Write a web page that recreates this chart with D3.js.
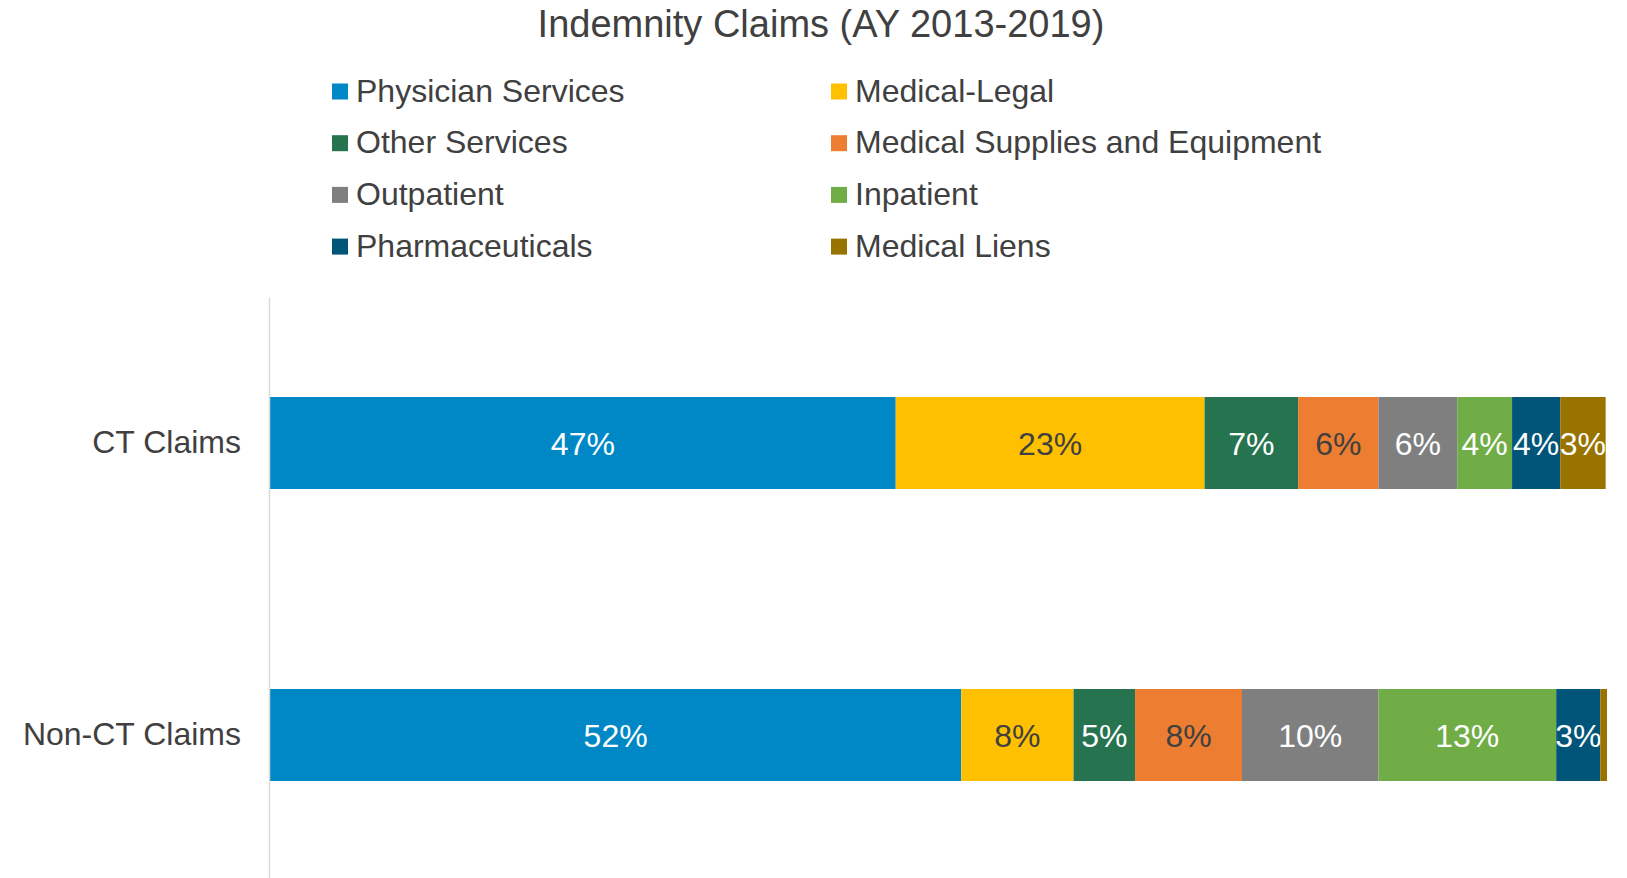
<!DOCTYPE html>
<html lang="en">
<head>
    <meta charset="UTF-8">
    <title>Indemnity Claims (AY 2013-2019)</title>
    <script src="https://d3js.org/d3.v7.min.js"></script>
    <style>
        body { margin: 0; background: #fff; }
        text { font-family: "Liberation Sans", Arial, sans-serif; }
    </style>
</head>
<body>
    <svg width="1627" height="878"></svg>
    <script>
        // data (shares in %)
        const categories = ['CT Claims', 'Non-CT Claims'];
        const seriesNames = ['Physician Services', 'Medical-Legal', 'Other Services',
            'Medical Supplies and Equipment', 'Outpatient', 'Inpatient',
            'Pharmaceuticals', 'Medical Liens'];
        const ctValues = [46.8, 23.1, 7.0, 6.0, 5.9, 4.1, 3.6, 3.4];
        const nonCtValues = [51.7, 8.4, 4.6, 8.0, 10.2, 13.3, 3.3, 0.5];

        const colors = ['#0088c6', '#ffc000', '#267350', '#ed7d31',
            '#7f7f7f', '#70ad47', '#005578', '#997300'];
        const labelColors = ['#fff', '#404040', '#fff', '#404040',
            '#fff', '#fff', '#fff', '#fff'];

        const svg = d3.select('svg');

        // build rows for the stack
        const rows = categories.map((c, i) => {
            const vals = i === 0 ? ctValues : nonCtValues;
            const r = { category: c };
            seriesNames.forEach((s, j) => r[s] = vals[j]);
            return r;
        });
        const stacked = d3.stack().keys(seriesNames)(rows);

        const x = d3.scaleLinear().domain([0, 100]).range([270, 1607]);
        const y = d3.scaleBand().domain(categories)
            .range([297, 881])
            .paddingInner(0.685)
            .paddingOuter(0.3425);

        // title
        svg.append('text')
            .attr('x', 821).attr('y', 37)
            .attr('text-anchor', 'middle')
            .style('font-size', '38px')
            .attr('fill', '#404040')
            .text('Indemnity Claims (AY 2013-2019)');

        // legend, two columns
        const legend = svg.append('g');
        seriesNames.forEach((s, i) => {
            const col = i % 2, row = Math.floor(i / 2);
            const g = legend.append('g')
                .attr('transform', `translate(${col === 0 ? 332 : 831}, ${91.5 + row * 51.7})`);
            g.append('rect')
                .attr('x', 0).attr('y', -8)
                .attr('width', 16).attr('height', 16)
                .attr('fill', colors[i]);
            g.append('text')
                .attr('x', 24).attr('y', 10)
                .style('font-size', '32px')
                .attr('fill', '#404040')
                .text(s);
        });

        // bars
        const layers = svg.append('g').selectAll('g')
            .data(stacked)
            .join('g')
            .attr('fill', (d, i) => colors[i]);

        layers.selectAll('rect')
            .data(d => d)
            .join('rect')
            .attr('x', d => x(d[0]))
            .attr('y', d => y(d.data.category))
            .attr('width', d => x(d[1]) - x(d[0]))
            .attr('height', y.bandwidth());

        const fmt = v => Math.round(v) + '%';
        layers.each(function (layer, i) {
            d3.select(this).selectAll('text')
                .data(layer.filter(d => d[1] - d[0] >= 1))
                .join('text')
                .attr('x', d => (x(d[0]) + x(d[1])) / 2)
                .attr('y', d => y(d.data.category) + y.bandwidth() / 2 + 12)
                .attr('text-anchor', 'middle')
                .style('font-size', '32px')
                .attr('fill', labelColors[i])
                .text(d => fmt(d[1] - d[0]));
        });

        // category axis
        const yAxis = d3.axisLeft(y).tickSize(0).tickPadding(28);
        const axisG = svg.append('g')
            .attr('transform', 'translate(269, 0)')
            .call(yAxis);
        axisG.select('.domain').attr('stroke', '#d9d9d9').attr('stroke-width', 1.5);
        axisG.selectAll('text')
            .style('font-size', '32px')
            .style('font-family', '"Liberation Sans", Arial, sans-serif')
            .attr('fill', '#404040');
    </script>
</body>
</html>
